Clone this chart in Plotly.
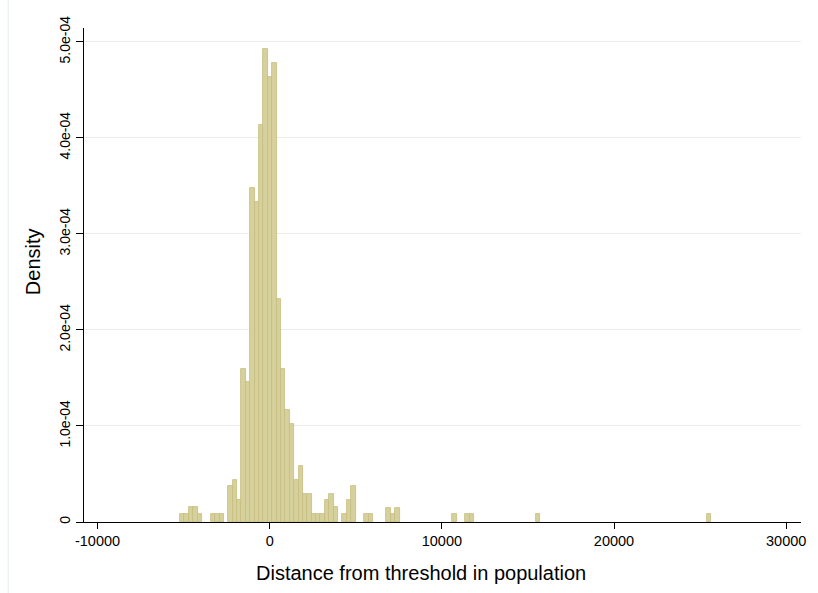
import plotly.graph_objects as go

# ---- data ----
bin_start = -5210          # left edge of first bin
bin_width = 255            # bin width (population units)
bin_index = [0, 1, 2, 3, 4, 7, 8, 9,
             11, 12, 13, 14, 15, 16, 17, 18, 19, 20, 21, 22, 23, 24, 25,
             26, 27, 28, 29, 30, 31, 32, 33, 34, 35,
             37, 38, 39, 42, 43, 47, 48, 49, 62, 65, 66, 81, 120]
density_e4 = [0.086, 0.086, 0.156, 0.156, 0.086, 0.086, 0.086, 0.086,
              0.372, 0.440, 0.226, 1.596, 1.458, 3.478, 3.332, 4.131, 4.922, 4.633, 4.779, 2.319, 1.596, 1.163, 1.017,
              0.440, 0.583, 0.295, 0.295, 0.086, 0.086, 0.086, 0.226, 0.295, 0.156,
              0.086, 0.232, 0.375, 0.086, 0.086, 0.149, 0.086, 0.149, 0.086, 0.086, 0.086, 0.086, 0.086]

x_ticks = [-10000, 0, 10000, 20000, 30000]
x_ticklabels = ["-10000", "0", "10000", "20000", "30000"]
y_ticks = [0, 1e-4, 2e-4, 3e-4, 4e-4, 5e-4]
y_ticklabels = ["0", "1.0e-04", "2.0e-04", "3.0e-04", "4.0e-04", "5.0e-04"]

x_title = "Distance from threshold in population"
y_title = "Density"

centers = [bin_start + (k + 0.5) * bin_width for k in bin_index]
dens = [d * 1e-4 for d in density_e4]

W, H = 818, 593
ML, MR, MT, MB = 84, 15, 28, 71
PW, PH = W - ML - MR, H - MT - MB

fig = go.Figure()
fig.add_trace(go.Bar(
    x=centers, y=dens, width=bin_width,
    marker=dict(color="#d6d19c", line=dict(color="#c4bc7e", width=0.8)),
    hoverinfo="x+y",
))

font_family = "Arial, 'Liberation Sans', sans-serif"

fig.update_layout(
    width=W, height=H,
    margin=dict(l=ML, r=MR, t=MT, b=MB, pad=0),
    paper_bgcolor="white", plot_bgcolor="white",
    bargap=0, showlegend=False,
    font=dict(family=font_family, color="black", size=14),
    xaxis=dict(
        range=[-10785, 30860],
        tickvals=x_ticks, ticktext=x_ticklabels,
        showgrid=False, zeroline=False,
        showline=True, linecolor="black", linewidth=1,
        ticks="outside", ticklen=6, tickcolor="black", tickwidth=1,
        tickfont=dict(size=14.5),
    ),
    yaxis=dict(
        range=[0, PH / 96.04 * 1e-4],
        tickvals=y_ticks, ticktext=y_ticklabels,
        tickangle=-90,
        showgrid=True, gridcolor="#ececec", gridwidth=1,
        zeroline=False,
        showline=True, linecolor="black", linewidth=1,
        ticks="outside", ticklen=7, tickcolor="black", tickwidth=1,
        tickfont=dict(size=14),
    ),
    shapes=[
        dict(type="line", xref="paper", yref="paper",
             x0=(8 - ML) / PW, x1=(8 - ML) / PW,
             y0=-MB / PH, y1=(H - MB) / PH,
             line=dict(color="#e3ebee", width=1)),
    ],
    annotations=[
        dict(text=x_title, xref="paper", yref="paper",
             x=(422 - ML) / PW, y=(H - MB - 573) / PH,
             xanchor="center", yanchor="middle", showarrow=False,
             font=dict(size=20)),
        dict(text=y_title, xref="paper", yref="paper",
             x=(33 - ML) / PW, y=(H - MB - 262) / PH,
             xanchor="center", yanchor="middle", showarrow=False,
             textangle=-90, font=dict(size=20)),
    ],
)

fig.write_html("out.html")
